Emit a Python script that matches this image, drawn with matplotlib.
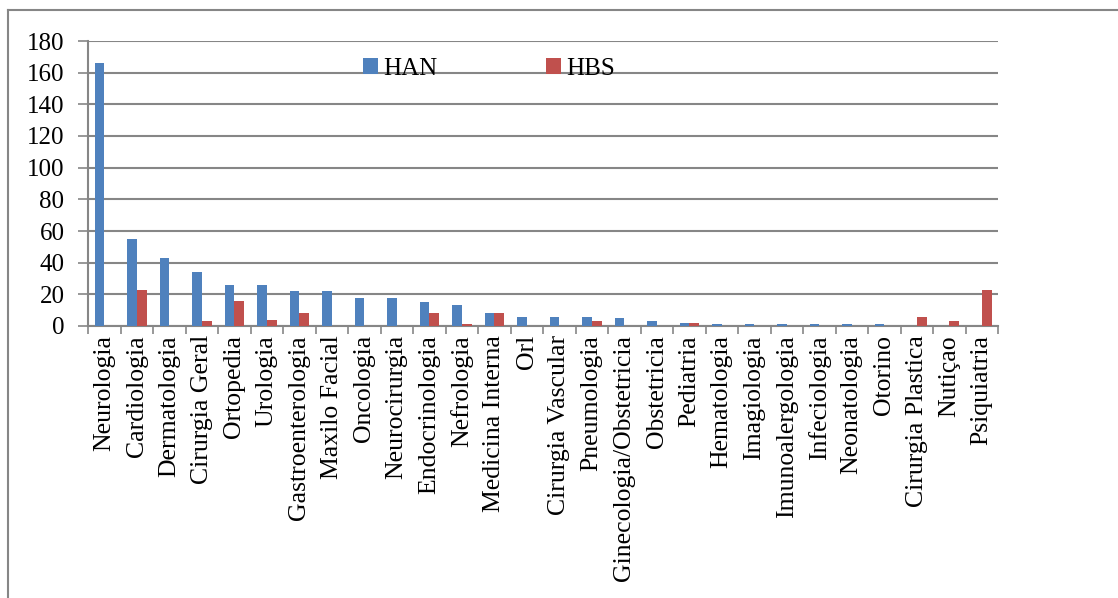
import numpy as np
import matplotlib.pyplot as plt
from matplotlib.lines import Line2D

plt.rcParams['font.family'] = ['Liberation Serif', 'DejaVu Serif']

# Data
categories = ["Neurologia", "Cardiologia", "Dermatologia", "Cirurgia Geral", "Ortopedia",
              "Urologia", "Gastroenterologia", "Maxilo Facial", "Oncologia", "Neurocirurgia",
              "Endocrinologia", "Nefrologia", "Medicina Interna", "Orl", "Cirurgia Vascular",
              "Pneumologia", "Ginecologia/Obstetricia", "Obstetricia", "Pediatria", "Hematologia",
              "Imagiologia", "Imunoalergologia", "Infeciologia", "Neonatologia", "Otorino",
              "Cirurgia Plastica", "Nutiçao", "Psiquiatria"]
han = [166, 55, 43, 34, 26, 26, 22, 22, 18, 18, 15, 13, 8, 6, 6, 6, 5, 3, 2, 1,
       1, 1, 1, 1, 1, 0, 0, 0]
hbs = [0, 23, 0, 3, 16, 4, 8, 0, 0, 0, 8, 1, 8, 0, 0, 3, 0, 0, 2, 0,
       0, 0, 0, 0, 0, 6, 3, 23]

blue = "#4f81bd"
red = "#c0504d"
grid_col = "#868686"

fig = plt.figure(figsize=(11.18, 5.98), dpi=100)
ax = fig.add_axes([88 / 1118, 1 - 326 / 598, 910 / 1118, 285 / 598])

x = np.arange(len(categories))
w = 0.3
ax.bar(x - w / 2, han, width=w, color=blue, label="HAN", zorder=3)
ax.bar(x + w / 2, hbs, width=w, color=red, label="HBS", zorder=3)

ax.set_xlim(-0.5, len(categories) - 0.5)
ax.set_ylim(0, 180)
ax.set_yticks(np.arange(0, 181, 20))
ax.yaxis.grid(True, color=grid_col, linewidth=1.5, zorder=0)
ax.set_axisbelow(True)

ax.set_xticks(x)
ax.set_xticklabels(categories, rotation=90, fontsize=18.5)
ax.tick_params(axis='x', which='major', length=0, pad=6.5)
ax.set_xticks(np.arange(-0.5, len(categories), 1), minor=True)
ax.tick_params(axis='x', which='minor', length=6, color=grid_col, width=1.2)
ax.tick_params(axis='y', labelsize=18, length=7, color=grid_col, width=1.2, pad=10)

for s in ["top", "right"]:
    ax.spines[s].set_visible(False)
for s in ["left", "bottom"]:
    ax.spines[s].set_color(grid_col)
    ax.spines[s].set_linewidth(1.5)

ax.legend(loc="upper left", bbox_to_anchor=(0.291, 0.975), ncol=2, frameon=False,
          fontsize=18, handlelength=0.6, handleheight=0.6, handletextpad=0.2,
          columnspacing=4.36, borderaxespad=0)

# outer chart frame
fig.add_artist(Line2D([8 / 1118, 1], [1 - 10 / 598, 1 - 10 / 598], color=grid_col, linewidth=1.5))
fig.add_artist(Line2D([8 / 1118, 8 / 1118], [0, 1 - 10 / 598], color=grid_col, linewidth=1.5))

fig.savefig("out.png", dpi=100)
